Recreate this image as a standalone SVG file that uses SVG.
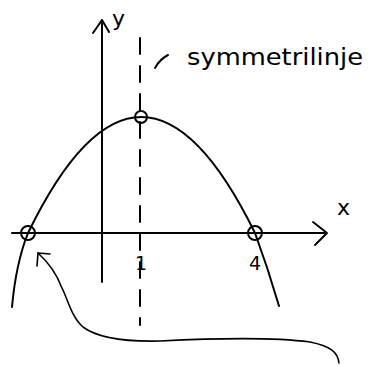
<svg xmlns="http://www.w3.org/2000/svg" width="369" height="366" viewBox="0 0 369 366">
<style>
.ln{fill:none;stroke:#000;stroke-width:2;stroke-linecap:round;stroke-linejoin:round}
.thin{fill:none;stroke:#000;stroke-width:1.6;stroke-linecap:round;stroke-linejoin:round}
.t{font-family:"DejaVu Sans","Liberation Sans",sans-serif;fill:#000}
</style>
<rect width="369" height="366" fill="#fff"/>
<g id="axes">
<path class="ln" d="M12,233 L327,233 M313,222 L327,233 L315,245"/>
<path class="ln" d="M102,282 L102,20 M93,33 L102,20 L109,32"/>
<text class="t" x="337" y="215" font-size="22">x</text>
<text class="t" x="112" y="26" font-size="22">y</text>
</g>
<g id="symmetry-line">
<path class="ln" d="M140,38 L140,325" stroke-dasharray="16,12"/>
<path class="ln" d="M155,68 Q160,59 168,55"/>
<text class="t" x="187" y="65" font-size="23" textLength="176" lengthAdjust="spacingAndGlyphs">symmetrilinje</text>
</g>
<g id="parabola">
<path class="ln" d="M12,307 C14,285 18,258 28,233 Q141,1 255,233 C262,252 272,282 279,306"/>
</g>
<g id="points">
<circle class="ln" cx="141" cy="117" r="6"/>
<circle class="ln" cx="28" cy="233" r="7"/>
<circle class="ln" cx="255" cy="233" r="7"/>
<text class="t" x="141" y="270" font-size="19" text-anchor="middle">1</text>
<text class="t" x="255" y="270" font-size="19" text-anchor="middle">4</text>
</g>
<g id="connectors">
<path class="thin" d="M339,363 C338,352 330,346 310,342 C280,338 220,338 160,341 C120,342 95,336 83,327 C72,318 68,300 62,288 C56,272 48,262 38,253"/>
<path class="thin" d="M37,266 L38,253 L50,254"/>
</g>
</svg>
